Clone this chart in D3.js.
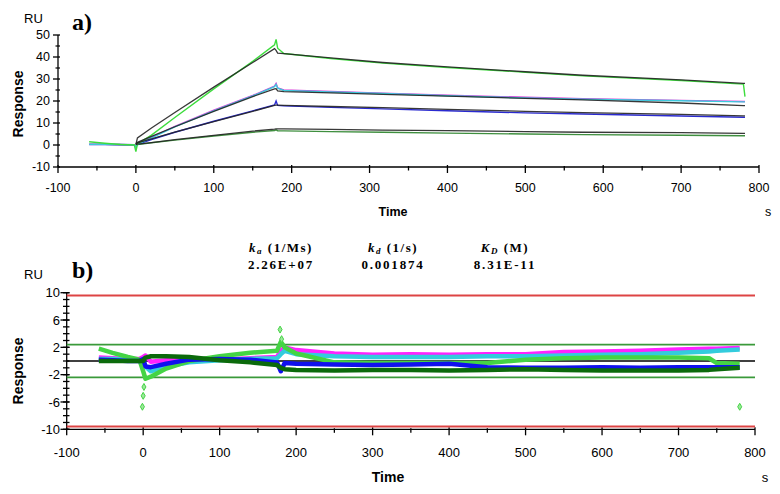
<!DOCTYPE html>
<html><head><meta charset="utf-8">
<script src="https://cdn.jsdelivr.net/npm/d3@7"></script>
<style>
html,body{margin:0;padding:0;background:#fff;}
svg{display:block;}
text{font-family:"Liberation Sans",Arial,sans-serif;fill:#000;}
.serif{font-family:"Liberation Serif","Times New Roman",serif;font-weight:bold;}
</style>
</head><body>
<svg id="c" width="780" height="494"></svg>
<script>
// ---------- Data: top panel (sensorgrams) ----------
const timeTop = [-60, -40, -20, -2, 0, 2, 20, 50, 100, 150, 178, 180, 182, 190, 250, 317, 400, 500, 574, 700, 780, 782];
const measGreen   = [1.5, 0.8, 0.2, 0, -3, 0.5, 4.5, 12.5, 25.5, 38, 45.5, 48, 44, 41.6, 39.3, 37.2, 35.2, 33.1, 31.4, 29.3, 27.7, 22];
const measMagenta = [0.3, 0.3, 0.2, 0.1, -0.5, 0.5, 3.5, 8.5, 15.8, 22.5, 26.8, 28, 26, 25, 24.3, 23.6, 22.6, 21.7, 21, 20.3, 19.8, 19.8];
const measCyan    = [0.3, 0.3, 0.2, 0.1, -0.8, 0.3, 3.2, 8.2, 15.5, 22.3, 26.5, 27.5, 25.8, 24.8, 24.1, 23.4, 22.4, 21.4, 20.8, 20.1, 19.6, 19.6];
const measBlue    = [0.2, 0.2, 0.1, 0, -0.8, 0.3, 2.5, 5.8, 10.8, 15.5, 18.2, 20, 18, 17.8, 17.1, 16.4, 15.6, 14.6, 14.1, 13.2, 12.6, 12.6];
const measDkGreen = [0.3, 0.3, 0.2, 0, -0.5, 0.2, 1.0, 2.2, 4.1, 5.8, 6.6, 6.9, 6.5, 6.4, 6.1, 5.8, 5.4, 5.0, 4.7, 4.4, 4.2, 4.2];
const fitTop  = [null, null, null, null, 0.3, 3.2, 7.7, 14.8, 26.3, 37.5, 43.8, 43.0, 41.8, 41.5, 39.6, 37.5, 35.5, 33.3, 31.7, 29.6, 28.0, 28.0];
const fitMid  = [null, null, null, null, 0.3, 1.2, 3.9, 8.3, 15.3, 22, 25.5, 25.6, 24.6, 24.3, 23.7, 23, 22.2, 21.2, 20.5, 19.1, 17.9, 17.9];
const fitBlue = [null, null, null, null, 0.3, 1.0, 2.8, 5.8, 10.6, 15.3, 18, 18.1, 18.1, 18.0, 17.5, 17, 16.2, 15.3, 14.7, 13.9, 13.2, 13.2];
const fitLow  = [null, null, null, null, 0.3, 0.4, 1.1, 2.4, 4.4, 6.3, 7.2, 7.3, 7.3, 7.3, 7.1, 6.8, 6.5, 6.1, 5.8, 5.6, 5.3, 5.3];

// ---------- Data: bottom panel (residuals) ----------
const timeRes = [-58, -40, -20, -5, 0, 3, 10, 30, 60, 100, 140, 175, 180, 185, 200, 250, 300, 350, 400, 450, 500, 550, 600, 650, 700, 740, 750, 780];
const resLime    = [1.8, 1.2, 0.6, 0.2, -1.5, -2.6, -2.3, -1.1, 0, 0.7, 1.2, 1.5, 2.8, 2.0, 1.1, -0.2, -0.3, -0.3, -0.3, -0.3, 0.2, 0.4, 0.5, 0.5, 0.5, 0.4, -0.3, -0.4];
const resMagenta = [0.5, 0.4, 0.3, 0.3, 0.6, 0.8, -0.1, 0.1, 0.2, 0.2, 0.4, 0.6, 1.5, 2.0, 1.6, 1.1, 0.9, 1.0, 0.9, 1.0, 1.0, 1.3, 1.4, 1.5, 1.7, 1.8, 1.8, 1.9];
const resCyan    = [0.3, 0.3, 0.2, 0.1, 0, -0.8, -1.5, -0.8, -0.2, 0.1, 0.3, 0.4, 1.0, 1.5, 1.0, 0.7, 0.6, 0.6, 0.6, 0.7, 0.7, 0.8, 0.9, 1.0, 1.2, 1.4, 1.5, 1.7];
const resBlue    = [0.2, 0.1, 0, 0, 0.3, -0.8, -0.9, -0.4, 0.2, 0.3, 0.2, -0.2, -1.5, -0.3, -0.4, -0.5, -0.6, -0.5, -0.4, -0.9, -1.0, -1.0, -0.9, -1.0, -0.9, -0.9, -0.9, -0.9];
const resDkGreen = [0, 0, 0, 0, 0, 0.5, 0.7, 0.7, 0.6, 0.1, -0.2, -0.6, -1.0, -1.2, -1.3, -1.4, -1.3, -1.3, -1.4, -1.3, -1.2, -1.3, -1.4, -1.4, -1.4, -1.3, -1.2, -1.0];
const outlierTime  = [1, 0, -1, 179, 181, 780];
const outlierValue = [-3.8, -5.1, -6.7, 4.6, 3.2, -6.7];
const redLimits   = [9.6, -9.6];
const greenLimits = [2.4, -2.4];

// ---------- Tick labels / texts ----------
const xTicks = [-100, 0, 100, 200, 300, 400, 500, 600, 700, 800];
const yTicksTop = [-10, 0, 10, 20, 30, 40, 50];
const yTicksRes = [10, 6, 2, -2, -6, -10];
const kinHeaders = ["k|a| (1/Ms)", "k|d| (1/s)", "K|D| (M)"];
const kinValues = ["2.26E+07", "0.001874", "8.31E-11"];

const svg = d3.select("#c");

// ---------- Scales ----------
const xTop = d3.scaleLinear().domain([-100, 800]).range([58, 759]);
const yTop = d3.scaleLinear().domain([-10, 50]).range([167, 35]);
const xRes = d3.scaleLinear().domain([-100, 800]).range([66.7, 755]);
const yRes = d3.scaleLinear().domain([-10, 10]).range([429.3, 292.7]);

function drawXAxis(x, y0, labelY, fs) {
  const g = svg.append("g");
  g.append("line").attr("x1", x.range()[0]).attr("x2", x.range()[1]).attr("y1", y0).attr("y2", y0).attr("stroke", "#000").attr("stroke-width", 1.3);
  const major = xTicks;
  const minor = d3.range(-50, 800, 100);
  g.selectAll(".mj").data(major).join("line").attr("x1", d => x(d)).attr("x2", d => x(d)).attr("y1", y0 - 2).attr("y2", y0 + 6).attr("stroke", "#000").attr("stroke-width", 1.3);
  g.selectAll(".mn").data(minor).join("line").attr("x1", d => x(d)).attr("x2", d => x(d)).attr("y1", y0 - 1).attr("y2", y0 + 3.5).attr("stroke", "#000").attr("stroke-width", 1.3);
  g.selectAll("text").data(major).join("text").attr("x", d => x(d)).attr("y", labelY).attr("text-anchor", "middle").attr("font-size", fs).text(d => d);
}

// ---------- TOP PANEL ----------
drawXAxis(xTop, 167, 192, "12.5px");
{
  const g = svg.append("g");
  g.append("line").attr("x1", 58).attr("x2", 58).attr("y1", yTop(50)).attr("y2", yTop(-10)).attr("stroke", "#000").attr("stroke-width", 1.3);
  g.selectAll(".mj").data(yTicksTop).join("line").attr("x1", 53).attr("x2", 60).attr("y1", d => yTop(d)).attr("y2", d => yTop(d)).attr("stroke", "#000").attr("stroke-width", 1.3);
  g.selectAll(".mn").data(d3.range(-5, 50, 10)).join("line").attr("x1", 55.5).attr("x2", 60).attr("y1", d => yTop(d)).attr("y2", d => yTop(d)).attr("stroke", "#000").attr("stroke-width", 1.2);
  g.selectAll("text").data(yTicksTop).join("text").attr("x", 50).attr("y", d => yTop(d)).attr("dy", "0.35em").attr("text-anchor", "end").attr("font-size", "12.5px").text(d => d);
}
const lineTop = d3.line().defined(d => d[1] !== null).x(d => xTop(d[0])).y(d => yTop(d[1]));
const topSeries = [
  [measDkGreen, "#3f8f3f"], [measBlue, "#2a2ad0"], [measMagenta, "#d83cd8"], [measCyan, "#3cc8dc"], [measGreen, "#3ddc3d"]
];
topSeries.forEach(([vals, col]) => {
  svg.append("path").datum(timeTop.map((t, i) => [t, vals[i]])).attr("d", lineTop)
    .attr("fill", "none").attr("stroke", col).attr("stroke-width", 1.4);
});
[fitTop, fitMid, fitBlue, fitLow].forEach(vals => {
  svg.append("path").datum(timeTop.map((t, i) => [t, vals[i]])).attr("d", lineTop)
    .attr("fill", "none").attr("stroke", "#222").attr("stroke-width", 1.3).attr("opacity", 0.9);
});
svg.append("text").attr("x", 24).attr("y", 23).attr("font-size", "13px").text("RU");
svg.append("text").attr("class", "serif").attr("x", 72).attr("y", 30).attr("font-size", "24px").text("a)");
svg.append("text").attr("transform", "translate(23,104) rotate(-90)").attr("text-anchor", "middle").attr("font-size", "14px").attr("font-weight", "bold").text("Response");
svg.append("text").attr("x", 393).attr("y", 216).attr("text-anchor", "middle").attr("font-size", "12.5px").attr("font-weight", "bold").text("Time");
svg.append("text").attr("x", 768).attr("y", 216).attr("text-anchor", "middle").attr("font-size", "12.5px").text("s");

// ---------- Kinetic header ----------
const headX = [281, 393, 505];
kinHeaders.forEach((h, i) => {
  const parts = h.split("|");
  const t = svg.append("text").attr("class", "serif").attr("x", headX[i]).attr("y", 252).attr("text-anchor", "middle").attr("font-size", "13px").attr("letter-spacing", "1.5px");
  t.append("tspan").attr("font-style", "italic").text(parts[0]);
  t.append("tspan").attr("font-style", "italic").attr("font-size", "9px").attr("dy", 2).text(parts[1]);
  t.append("tspan").attr("dy", -2).text(parts[2]);
  svg.append("text").attr("class", "serif").attr("x", headX[i]).attr("y", 269).attr("text-anchor", "middle").attr("font-size", "13px").attr("letter-spacing", "1.8px").text(kinValues[i]);
});

// ---------- BOTTOM PANEL ----------
drawXAxis(xRes, 429.3, 457, "13px");
{
  const g = svg.append("g");
  g.append("line").attr("x1", 66.7).attr("x2", 66.7).attr("y1", yRes(10)).attr("y2", yRes(-10)).attr("stroke", "#000").attr("stroke-width", 1.3);
  g.selectAll(".mn").data(d3.range(-10, 11, 1)).join("line").attr("x1", 63).attr("x2", 69.5).attr("y1", d => yRes(d)).attr("y2", d => yRes(d)).attr("stroke", "#000").attr("stroke-width", 1.3);
  g.selectAll(".mj").data(yTicksRes).join("line").attr("x1", 60.5).attr("x2", 69.5).attr("y1", d => yRes(d)).attr("y2", d => yRes(d)).attr("stroke", "#000").attr("stroke-width", 1.3);
  g.selectAll("text").data(yTicksRes).join("text").attr("x", 60).attr("y", d => yRes(d)).attr("dy", "0.35em").attr("text-anchor", "end").attr("font-size", "13px").text(d => d);
}
svg.selectAll(".red").data(redLimits).join("line").attr("x1", xRes(-100)).attr("x2", xRes(800))
  .attr("y1", d => yRes(d)).attr("y2", d => yRes(d)).attr("stroke", "#dd4444").attr("stroke-width", 2);
svg.selectAll(".grn").data(greenLimits).join("line").attr("x1", xRes(-100)).attr("x2", xRes(800))
  .attr("y1", d => yRes(d)).attr("y2", d => yRes(d)).attr("stroke", "#3a9a3a").attr("stroke-width", 1.6);
svg.append("line").attr("x1", xRes(-100)).attr("x2", xRes(800)).attr("y1", yRes(0)).attr("y2", yRes(0)).attr("stroke", "#000").attr("stroke-width", 1.5);

const lineRes = d3.line().x(d => xRes(d[0])).y(d => yRes(d[1]));
const resSeries = [
  [resMagenta, "#ff22ff"], [resCyan, "#33ccdd"], [resLime, "#44d444"], [resBlue, "#1010ee"], [resDkGreen, "#0b6a0b"]
];
resSeries.forEach(([vals, col]) => {
  svg.append("path").datum(timeRes.map((t, i) => [t, vals[i]])).attr("d", lineRes)
    .attr("fill", "none").attr("stroke", col).attr("stroke-width", 4.5).attr("stroke-linejoin", "round");
});
svg.selectAll(".out").data(outlierTime.map((t, i) => [t, outlierValue[i]])).join("path")
  .attr("transform", d => `translate(${xRes(d[0])},${yRes(d[1])})`)
  .attr("d", d3.symbol(d3.symbolDiamond, 14)).attr("fill", "#9be89b").attr("stroke", "#44d444").attr("stroke-width", 1);

svg.append("text").attr("x", 24).attr("y", 279).attr("font-size", "13px").text("RU");
svg.append("text").attr("class", "serif").attr("x", 72).attr("y", 278).attr("font-size", "24px").text("b)");
svg.append("text").attr("transform", "translate(23,371) rotate(-90)").attr("text-anchor", "middle").attr("font-size", "14px").attr("font-weight", "bold").text("Response");
svg.append("text").attr("x", 388).attr("y", 482).attr("text-anchor", "middle").attr("font-size", "14px").attr("font-weight", "bold").text("Time");
svg.append("text").attr("x", 765).attr("y", 482).attr("text-anchor", "middle").attr("font-size", "13px").text("s");
</script>
</body></html>
